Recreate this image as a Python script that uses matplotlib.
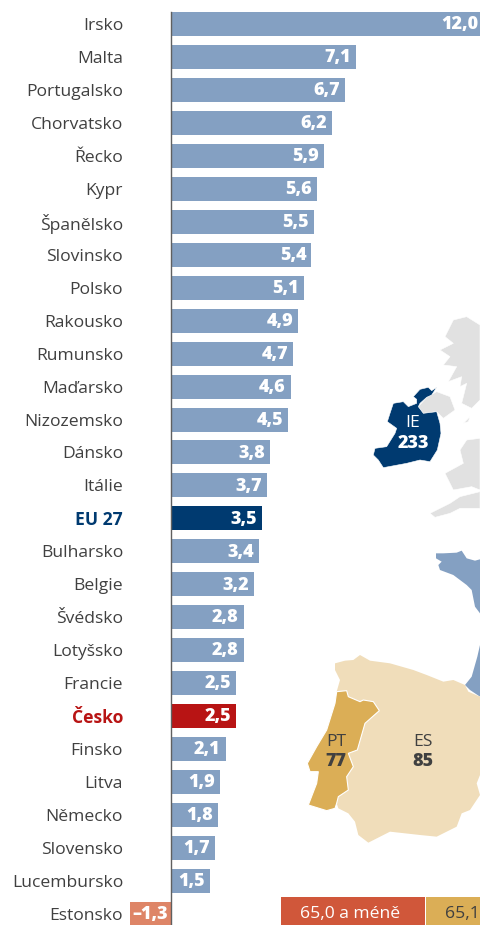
import matplotlib
matplotlib.use("Agg")
import matplotlib.pyplot as plt
from matplotlib.patches import Polygon, Rectangle

W, H = 480, 925
FONT = "Open Sans"
TXT = "#404040"

countries = ["Irsko", "Malta", "Portugalsko", "Chorvatsko", "Řecko", "Kypr", "Španělsko",
             "Slovinsko", "Polsko", "Rakousko", "Rumunsko", "Maďarsko", "Nizozemsko", "Dánsko",
             "Itálie", "EU 27", "Bulharsko", "Belgie", "Švédsko", "Lotyšsko", "Francie", "Česko",
             "Finsko", "Litva", "Německo", "Slovensko", "Lucembursko", "Estonsko"]
values = [12.0, 7.1, 6.7, 6.2, 5.9, 5.6, 5.5, 5.4, 5.1, 4.9, 4.7, 4.6, 4.5, 3.8,
          3.7, 3.5, 3.4, 3.2, 2.8, 2.8, 2.5, 2.5, 2.1, 1.9, 1.8, 1.7, 1.5, -1.3]
# the Estonia bar is drawn longer than its value in the original so the label fits
drawn = values[:-1] + [-1.58]
labels = ["12,0", "7,1", "6,7", "6,2", "5,9", "5,6", "5,5", "5,4", "5,1", "4,9", "4,7", "4,6", "4,5", "3,8",
          "3,7", "3,5", "3,4", "3,2", "2,8", "2,8", "2,5", "2,5", "2,1", "1,9", "1,8", "1,7", "1,5", "–1,3"]

ireland = [(400,290),(420,268),(445,262),(455,272),(470,262),(455,285),(440,292),(420,310),(415,320),
           (430,340),(470,335),(480,370),(483,400),(472,450),(450,485),(420,480),(380,490),(310,503),
           (295,480),(280,465),(285,445),(320,440),(345,400),(350,385),(322,365),(330,340),(340,310),
           (370,305),(385,320),(410,310),(410,298)]
n_ireland = [(415,320),(440,292),(470,275),(510,290),(525,330),(490,355),(470,335),(430,340)]
scotland = [(600,75),(560,50),(520,60),(495,110),(520,130),(480,150),(510,170),(490,195),(530,200),
            (505,245),(545,230),(540,260),(560,250),(545,310),(575,325),(600,300)]
man = [(550,370),(570,350),(565,365)]
wales = [(600,415),(560,420),(540,450),(550,490),(495,520),(520,570),(575,560),(600,570)]
cornwall = [(600,575),(540,590),(510,610),(450,640),(465,652),(510,640),(540,625),(600,625)]
france_n = [(108,70),(130,70),(170,68),(185,62),(200,85),(225,92),(240,88),(240,250),(225,230),
            (215,180),(200,165),(160,135),(120,120),(115,105),(125,95),(108,85)]
france_s = [(240,345),(232,380),(215,440),(195,465),(210,480),(240,500)]
spain = [(165,70),(195,62),(220,60),(240,45),(270,62),(330,70),(400,90),(440,105),(490,125),(520,120),
         (555,135),(565,155),(600,170),(600,405),(590,430),(600,465),(570,510),(545,520),(530,560),
         (470,590),(420,585),(330,575),(265,608),(235,585),(225,545),(205,520),(175,505),(170,490),
         (175,470),(205,450),(200,410),(220,380),(205,340),(232,330),(255,250),(295,215),(280,185),
         (250,180),(240,185),(205,170),(200,152),(170,155),(180,120),(165,90)]
portugal = [(170,155),(200,152),(205,170),(240,185),(250,180),(280,185),(298,212),(255,250),(232,330),
            (205,340),(220,380),(200,410),(205,450),(175,470),(170,490),(165,505),(140,512),(85,495),
            (110,430),(115,395),(90,395),(82,370),(110,320),(140,270),(165,190)]


def crop(points, x0, y0):
    # crops were enlarged 3x
    return [(x0 + x / 3, y0 + y / 3) for x, y in points]


def bar_color(name, v):
    if name == "EU 27":
        return "#003A70"
    if name == "Česko":
        return "#B81414"
    return "#DE8567" if v < 0 else "#84A0C2"


plt.rcParams["font.family"] = [FONT, "DejaVu Sans"]
fig = plt.figure(figsize=(W / 100, H / 100), dpi=100)

ax = fig.add_axes([0, 0, 1, 1])
ax.set_xlim(-171 / 26, (W - 171) / 26)
ax.set_ylim((H - 24) / 32.96, -24 / 32.96)
ypos = list(range(len(countries)))

# spine position first, it resets the ticks
ax.xaxis.set_visible(False)
for s in ["top", "right", "bottom"]:
    ax.spines[s].set_visible(False)
ax.spines["left"].set_position(("data", 0))
ax.spines["left"].set_color("#606060")
ax.spines["left"].set_linewidth(1.0)
ax.spines["left"].set_bounds(-0.37, (H - 24) / 32.96)

ax.barh(ypos, drawn, height=24 / 32.96, color=[bar_color(c, v) for c, v in zip(countries, values)])
for y, v, lab in zip(ypos, drawn, labels):
    ax.annotate(lab, (v, y) if v > 0 else (0, y), xytext=(-3.6 if v > 0 else -2, -0.5), textcoords="offset points",
                ha="right", va="center", color="white", fontsize=13, fontweight="heavy", annotation_clip=False)

ax.set_yticks(ypos, countries)
ax.tick_params(axis="y", length=0, pad=34.5, labelsize=12.6, labelcolor=TXT)
for tick, name in zip(ax.get_yticklabels(), countries):
    if name == "EU 27":
        tick.set_color("#003A70"); tick.set_fontweight("bold")
    if name == "Česko":
        tick.set_color("#B81414"); tick.set_fontweight("bold")

# map and legend sit in pixel space on top of the bars
mp = fig.add_axes([0, 0, 1, 1], facecolor="none")
mp.set_xlim(0, W); mp.set_ylim(H, 0); mp.axis("off")
for pts, col in [(scotland, "#E1E1E1"), (man, "#E1E1E1"), (wales, "#E1E1E1"), (cornwall, "#E1E1E1"),
                 (n_ireland, "#E1E1E1"), (ireland, "#003A70")]:
    mp.add_patch(Polygon(crop(pts, 280, 300), fc=col, ec="white", lw=0.4))
for pts in (france_n, france_s):
    mp.add_patch(Polygon(crop(pts, 400, 530), fc="#84A0C2", ec="none"))
mp.add_patch(Polygon(crop(spain, 280, 640), fc="#F0DDBA", ec="none"))
mp.add_patch(Polygon(crop(portugal, 280, 640), fc="#DBAE56", ec="white", lw=0.8))

for x, y, code, val, col in [(413, 423, "IE", "233", "white"), (336, 742, "PT", "77", TXT), (423, 742, "ES", "85", TXT)]:
    mp.text(x, y, code, ha="center", va="center", color=col, fontsize=12.6)
    mp.text(x, y + 20, val, ha="center", va="center", color=col, fontsize=13, fontweight="heavy")

mp.add_patch(Rectangle((281, 897), 144, 28, fc="#D0573A", ec="none"))
mp.add_patch(Rectangle((426, 897), 54, 28, fc="#DBAE56", ec="none"))
mp.text(350, 914, "65,0 a méně", ha="center", va="center", color="white", fontsize=12.6)
mp.text(445, 914, "65,1", ha="left", va="center", color=TXT, fontsize=12.6)

fig.savefig("out.png", dpi=100)
